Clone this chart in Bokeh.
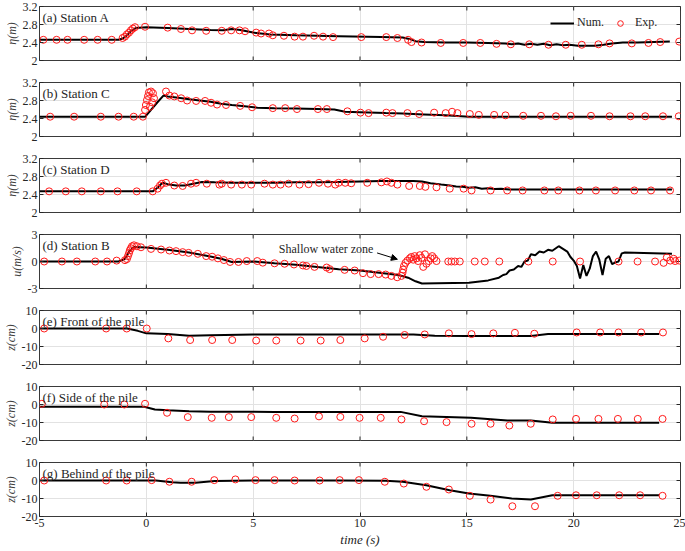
import math
from bokeh.plotting import figure
from bokeh.layouts import column
from bokeh.models import (Range1d, FixedTicker, NumeralTickFormatter, Label,
                          Arrow, NormalHead, Legend, LegendItem)
from bokeh.embed import file_html
from bokeh.resources import INLINE

FONT = "'Liberation Serif', 'Times New Roman', 'DejaVu Serif', serif"
TXT = "#262626"

# ---------------- data ----------------
x_ticks = [-5, 0, 5, 10, 15, 20, 25]
eta_ticks = [2, 2.4, 2.8, 3.2]
u_ticks = [-3, 0, 3]
z_ticks = [-20, -10, 0, 10]

# (a) Station A
num_a_t = [-5, -1.3, -1.1, -0.9, -0.7, -0.5, 0, 1, 2, 3, 3.6, 4.0, 4.4, 5, 5.8, 7, 9, 11, 12.0, 12.3,
           12.6, 13, 14, 15, 16, 16.8, 17.1, 17.4, 17.7, 18.0, 18.3, 18.6, 18.9, 19.2, 19.5, 19.8, 20.2,
           20.6, 21.0, 21.4, 21.8, 22.3, 23, 24.5]
num_a = [2.46, 2.46, 2.49, 2.56, 2.66, 2.72, 2.74, 2.72, 2.70, 2.68, 2.67, 2.70, 2.68, 2.62, 2.58, 2.56,
         2.54, 2.52, 2.51, 2.48, 2.43, 2.41, 2.40, 2.40, 2.39, 2.38, 2.36, 2.38, 2.35, 2.37, 2.35, 2.37,
         2.34, 2.36, 2.34, 2.35, 2.33, 2.33, 2.33, 2.35, 2.38, 2.40, 2.40, 2.42]
exp_a_t = [-4.82, -4.20, -3.69, -2.91, -2.28, -1.62, -1.11, -1.00, -0.91, -0.81, -0.72, -0.63, -0.53,
           -0.06, 1.0, 1.62, 2.14, 2.80, 3.53, 3.97, 4.36, 4.62, 5.14, 5.37, 5.74, 5.92, 6.44, 6.94, 7.33,
           7.85, 8.27, 8.74, 10.06, 11.23, 11.75, 12.25, 12.41, 12.88, 13.78, 14.83, 15.63, 16.39, 17.06,
           17.92, 18.82, 19.63, 20.38, 21.16, 21.68, 22.72, 23.50, 24.05, 24.94]
exp_a = [2.46, 2.46, 2.46, 2.46, 2.46, 2.46, 2.50, 2.53, 2.58, 2.62, 2.67, 2.71, 2.74, 2.75, 2.73, 2.70,
         2.67, 2.66, 2.66, 2.67, 2.67, 2.65, 2.62, 2.60, 2.60, 2.56, 2.55, 2.53, 2.53, 2.55, 2.53, 2.52,
         2.52, 2.52, 2.50, 2.46, 2.41, 2.40, 2.39, 2.39, 2.39, 2.37, 2.36, 2.36, 2.35, 2.35, 2.35, 2.36,
         2.38, 2.38, 2.39, 2.41, 2.42]

# (b) Station C
num_b_t = [-5, -0.05, 0.2, 0.5, 0.8, 1.0, 1.5, 2.0, 2.5, 3.0, 3.5, 4.0, 4.6, 5.2, 6.0, 7.0, 8.0, 8.8,
           9.3, 10.0, 11.2, 12.0, 13.0, 14.0, 15.1, 24.6]
num_b = [2.44, 2.44, 2.58, 2.75, 2.91, 2.89, 2.86, 2.83, 2.80, 2.77, 2.73, 2.70, 2.67, 2.64, 2.63, 2.62,
         2.61, 2.60, 2.55, 2.54, 2.52, 2.51, 2.49, 2.47, 2.44, 2.44]
exp_b_t = [-4.50, -3.38, -2.13, -1.30, -0.59, -0.16, -0.06, -0.02, 0.03, 0.08, 0.12, 0.17, 0.22, 0.27,
           0.31, 0.36, 0.92, 1.08, 1.31, 1.63, 1.91, 2.33, 2.75, 3.03, 3.31, 3.73, 4.39, 4.95, 5.92, 6.50,
           7.05, 8.03, 8.45, 9.41, 10.02, 10.40, 11.23, 11.52, 12.22, 12.77, 13.47, 14.01, 14.31, 14.56,
           15.14, 15.56, 16.28, 16.81, 17.64, 18.47, 19.17, 19.86, 20.81, 21.68, 22.66, 23.35, 24.18, 24.92]
exp_b = [2.44, 2.44, 2.44, 2.44, 2.44, 2.44, 2.59, 2.70, 2.81, 2.90, 2.98, 2.66, 3.0, 2.76, 2.96, 2.85,
         3.0, 2.91, 2.89, 2.85, 2.80, 2.79, 2.79, 2.75, 2.71, 2.70, 2.68, 2.65, 2.63, 2.63, 2.61, 2.61,
         2.61, 2.56, 2.53, 2.52, 2.53, 2.52, 2.52, 2.50, 2.53, 2.52, 2.55, 2.52, 2.50, 2.48, 2.48, 2.47,
         2.46, 2.46, 2.45, 2.46, 2.46, 2.45, 2.45, 2.45, 2.45, 2.45]

# (c) Station D
num_c_t = [-5, 0.3, 0.55, 0.75, 1.0, 1.4, 1.8, 2.2, 2.6, 3.2, 4, 5, 6, 7, 8, 9, 10, 11, 12.5, 12.9, 13.3,
           13.8, 14.2, 14.5, 14.8, 15.1, 15.4, 15.7, 16.0, 16.3, 16.6, 17.0, 18, 20, 24.6]
num_c = [2.47, 2.47, 2.56, 2.66, 2.63, 2.60, 2.60, 2.64, 2.68, 2.67, 2.66, 2.66, 2.66, 2.67, 2.67, 2.68,
         2.69, 2.70, 2.70, 2.69, 2.65, 2.62, 2.60, 2.58, 2.57, 2.55, 2.56, 2.53, 2.54, 2.52, 2.53, 2.51,
         2.51, 2.51, 2.51]
exp_c_t = [-4.55, -3.77, -3.02, -2.13, -1.35, -0.45, 0.30, 0.53, 0.64, 0.73, 0.92, 1.31, 1.70, 2.09,
           2.33, 2.83, 3.42, 3.53, 3.97, 4.47, 4.91, 5.53, 5.92, 6.28, 6.66, 7.17, 7.59, 8.08, 8.50, 8.84,
           9.00, 9.31, 9.59, 10.34, 11.0, 11.26, 11.47, 11.75, 12.30, 12.80, 13.06, 13.58, 14.20, 14.85,
           15.22, 16.11, 16.89, 17.61, 18.63, 19.28, 20.27, 21.04, 21.94, 22.84, 23.62, 24.51]
exp_c = [2.47, 2.47, 2.47, 2.47, 2.47, 2.47, 2.47, 2.53, 2.60, 2.64, 2.66, 2.60, 2.59, 2.64, 2.66, 2.64,
         2.62, 2.64, 2.62, 2.62, 2.62, 2.64, 2.62, 2.62, 2.64, 2.62, 2.63, 2.66, 2.64, 2.62, 2.66, 2.66,
         2.65, 2.66, 2.67, 2.69, 2.66, 2.62, 2.59, 2.59, 2.57, 2.56, 2.53, 2.53, 2.49, 2.49, 2.49, 2.49,
         2.49, 2.49, 2.49, 2.49, 2.49, 2.49, 2.49, 2.49]

# (d) Station B (velocity)
num_d_t = [-5, -1.3, -1.0, -0.8, -0.6, 0, 1, 2, 3.0, 3.5, 4.0, 5.0, 6.0, 7.0, 8.0, 9.0, 10.0, 10.7, 11.8,
           12.25, 12.6, 12.9, 15.1, 16.0, 16.5, 16.7, 16.85, 17.0, 17.2, 17.4, 17.55, 17.7, 17.85, 18.0,
           18.2, 18.4, 18.6, 18.8, 19.0, 19.3, 19.5, 19.7, 19.85, 20.0, 20.15, 20.3, 20.45, 20.6, 20.75,
           20.9, 21.05, 21.2, 21.35, 21.5, 21.65, 21.8, 21.95, 22.1, 22.25, 22.4, 24.6]
num_d = [0, 0, 0.3, 1.1, 1.6, 1.55, 1.3, 1.0, 0.55, 0.3, -0.05, 0.0, -0.2, -0.35, -0.6, -0.85, -1.0, -1.2,
         -1.5, -1.8, -2.2, -2.45, -2.35, -2.1, -1.8, -1.5, -1.4, -1.0, -0.9, -0.5, -0.6, 0.0, 0.1, 0.8,
         0.7, 1.1, 1.0, 1.3, 1.2, 1.7, 1.4, 1.1, 0.5, 0.1, -0.5, -1.9, -0.4, -1.6, -0.8, 0.6, 1.1, 0.2,
         -1.5, 0.3, 0.6, -0.3, -0.1, 0.0, 0.9, 1.0, 0.85]
exp_d_t = [-4.78, -3.95, -3.25, -2.39, -1.84, -1.39, -1.0, -0.91, -0.86, -0.81,
           -0.77, -0.72, -0.67, -0.58, -0.44, -0.25, 0.22, 0.69, 1.08, 1.39,
           1.70, 1.98, 2.41, 2.80, 3.08, 3.35, 3.63, 3.92, 4.31, 4.70,
           5.19, 5.45, 6.0, 6.47, 6.91, 7.33, 7.49, 7.87, 8.44, 8.58,
           9.28, 9.75, 10.14, 10.50, 10.87, 11.20, 11.47, 11.74, 11.94, 11.99,
           12.02, 12.06, 12.13, 12.22, 12.33, 12.40, 12.49, 12.56, 12.64, 12.72,
           12.80, 12.88, 12.96, 13.04, 13.11, 13.22, 13.31, 13.38, 13.47, 13.58,
           14.13, 14.28, 14.44, 14.67, 15.37, 15.84, 16.52, 17.88, 19.02, 20.30,
           22.10, 22.99, 23.81, 24.21, 24.36, 24.52, 24.68, 24.75, 24.94]
exp_d = [0, 0, 0, 0, 0, 0.1, 0.15, 0.27, 0.6, 0.93,
         1.25, 1.47, 1.69, 1.8, 1.69, 1.58, 1.40, 1.33, 1.22, 1.15,
         1.04, 0.96, 0.85, 0.60, 0.53, 0.35, 0.16, -0.05, -0.05, 0.05,
         0.05, -0.13, -0.2, -0.25, -0.33, -0.44, -0.5, -0.6, -0.67, -0.85,
         -0.93, -1.0, -1.3, -1.4, -1.4, -1.45, -1.6, -1.75, -1.6, -1.25,
         -0.9, -0.5, -0.15, 0.1, 0.35, 0.5, 0.2, 0.6, 0.35, 0.05,
         0.7, 0.4, -0.6, 0.8, -0.25, 0.05, 0.35, 0.6, 0.35, 0.05,
         0.0, 0.0, 0.0, 0.0, 0.0, 0.0, 0.0, 0.0, 0.0, 0.0,
         0.0, 0.0, 0.0, -0.15, 0.45, 0.1, 0.3, 0.05, 0.1]

# (e) Front of the pile
num_e_t = [-5, -0.9, -0.4, 0, 1.0, 2.0, 3.0, 5.0, 9.0, 12.5, 13.5, 15, 18.0, 18.8, 24.0]
num_e = [0, 0, -1.3, -2.7, -3.0, -4.0, -3.8, -3.4, -3.4, -3.4, -4.0, -4.2, -4.2, -3.1, -3.1]
exp_e_t = [-4.78, -1.88, -0.92, 0.02, 1.03, 2.05, 3.08, 4.02, 5.14, 6.08, 7.22, 8.16, 9.08, 10.22,
           11.08, 12.09, 13.03, 14.16, 15.22, 16.24, 17.25, 18.16, 20.14, 21.24, 22.10, 23.16, 24.18]
exp_e = [0, 0, 0, 0, -5.5, -6.4, -6.4, -6.4, -6.7, -6.7, -6.7, -6.7, -6.4, -5.5, -4.6, -3.6, -3.3, -2.7,
         -3.1, -2.7, -2.4, -2.9, -2.2, -2.2, -2.2, -2.2, -2.2]

# (f) Side of the pile
num_f_t = [-5, -0.1, 0.4, 1.0, 2.0, 3.0, 6.0, 9.0, 11.9, 12.9, 15.2, 16.9, 18.0, 19.0, 24.0]
num_f = [-1.2, -1.2, -2.8, -3.2, -3.7, -4.0, -4.1, -4.1, -4.1, -6.5, -7.4, -8.9, -8.9, -10.2, -10.2]
exp_f_t = [-4.89, -1.97, -1.03, -0.06, 0.97, 1.94, 3.06, 3.86, 4.91, 6.08, 6.94, 8.08, 9.08, 9.98,
           10.97, 11.94, 13.0, 14.05, 15.22, 16.11, 16.99, 17.99, 19.02, 20.11, 21.16, 22.07, 23.0, 24.16]
exp_f = [0.4, 0, 0, 0.4, -4.6, -7.0, -7.4, -7.0, -7.0, -7.4, -7.8, -6.6, -6.9, -7.4, -7.4, -8.3, -9.3,
         -9.8, -10.7, -10.7, -11.7, -10.7, -8.3, -8.0, -8.0, -8.0, -8.0, -8.0]

# (g) Behind of the pile
num_g_t = [-5, 0.45, 1.2, 1.6, 2.3, 3.2, 5, 9, 11.2, 12.0, 13.1, 14.2, 15.1, 16.1, 17.1, 18.0, 19.0, 24.0]
num_g = [0, 0, -1.0, -1.3, -1.3, -0.3, 0, 0, -0.2, -0.7, -2.6, -5.4, -7.2, -8.5, -10.0, -10.6, -8.2, -8.2]
exp_g_t = [-4.78, -1.88, -0.92, 0.25, 1.08, 2.12, 3.18, 4.17, 5.11, 6.0, 6.94, 8.11, 9.05, 9.95, 11.16,
           12.05, 13.11, 14.16, 15.14, 16.11, 17.13, 18.19, 19.25, 20.11, 21.08, 22.13, 23.11, 24.16]
exp_g = [0, 0, 0, 0.2, -0.7, -0.7, 0.2, 0.6, 0.2, 0.2, 0, 0, 0.2, 0.2, -0.7, -1.7, -3.5, -5.0, -8.5,
         -10.6, -14.3, -14.3, -8.5, -8.2, -8.2, -8.2, -8.2, -8.5]

panels = [
    ("(a) Station A", "η(m)", (2, 3.2), eta_ticks, num_a_t, num_a, exp_a_t, exp_a),
    ("(b) Station C", "η(m)", (2, 3.2), eta_ticks, num_b_t, num_b, exp_b_t, exp_b),
    ("(c) Station D", "η(m)", (2, 3.2), eta_ticks, num_c_t, num_c, exp_c_t, exp_c),
    ("(d) Station B", "u(m/s)", (-3, 3), u_ticks, num_d_t, num_d, exp_d_t, exp_d),
    ("(e) Front of the pile", "z(cm)", (-20, 10), z_ticks, num_e_t, num_e, exp_e_t, exp_e),
    ("(f) Side of the pile", "z(cm)", (-20, 10), z_ticks, num_f_t, num_f, exp_f_t, exp_f),
    ("(g) Behind of the pile", "z(cm)", (-20, 10), z_ticks, num_g_t, num_g, exp_g_t, exp_g),
]

note_text = "Shallow water zone"
note_pos = (6.2, 1.35)
arrow_from = (10.8, 0.95)
arrow_to = (11.75, 0.25)

# ---------------- layout ----------------
W = 685
FRAME_H = 54
TOP = 6
BOT = 16
BOT_LAST = 34
LEFT = 39
RIGHT = 5
X0, X1 = -5, 25


def style_axis(ax, ticks):
    ax.ticker = FixedTicker(ticks=ticks)
    ax.formatter = NumeralTickFormatter(format="0.[0]")
    ax.major_tick_in = 4
    ax.major_tick_out = 0
    ax.minor_tick_in = 0
    ax.minor_tick_out = 0
    ax.axis_line_color = None
    ax.major_tick_line_color = TXT
    ax.major_tick_line_width = 1
    ax.major_label_text_font = FONT
    ax.major_label_text_color = TXT
    ax.major_label_text_font_size = "12px"
    ax.major_label_standoff = 2


figs = []
for i, (title, ylab, yr, yt, nt, nv, et, ev) in enumerate(panels):
    last = i == len(panels) - 1
    h = TOP + FRAME_H + (BOT_LAST if last else BOT)
    p = figure(width=W, height=h, x_range=Range1d(X0, X1), y_range=Range1d(*yr),
               output_backend="svg", toolbar_location=None,
               min_border_left=LEFT, min_border_right=RIGHT, min_border_top=TOP,
               min_border_bottom=(BOT_LAST if last else BOT))
    p.outline_line_color = "#3a3a3a"
    p.outline_line_width = 1
    p.background_fill_color = "white"
    p.border_fill_color = "white"

    style_axis(p.yaxis[0], yt)
    p.yaxis[0].axis_label = ylab
    p.yaxis[0].axis_label_text_font = FONT
    p.yaxis[0].axis_label_text_font_size = "12px"
    p.yaxis[0].axis_label_text_font_style = "italic"
    p.yaxis[0].axis_label_text_color = "#404040"
    p.yaxis[0].axis_label_standoff = 1
    if last:
        style_axis(p.xaxis[0], x_ticks)
        p.xaxis[0].axis_label = "time (s)"
        p.xaxis[0].axis_label_text_font = FONT
        p.xaxis[0].axis_label_text_font_size = "13px"
        p.xaxis[0].axis_label_text_font_style = "italic"
        p.xaxis[0].axis_label_text_color = TXT
        p.xaxis[0].axis_label_standoff = 2
    else:
        p.xaxis[0].visible = False

    p.xgrid.ticker = FixedTicker(ticks=x_ticks)
    p.ygrid.ticker = FixedTicker(ticks=yt)
    p.xgrid.grid_line_color = "#e2e2e2"
    p.ygrid.grid_line_color = "#e2e2e2"

    # inward box ticks on the top / right (and bottom where no axis is shown)
    p.scatter(x_ticks, [yr[1]] * len(x_ticks), marker="dash", angle=math.pi / 2, size=8,
              line_color=TXT, line_width=1)
    if not last:
        p.scatter(x_ticks, [yr[0]] * len(x_ticks), marker="dash", angle=math.pi / 2, size=8,
                  line_color=TXT, line_width=1)
    p.scatter([X1] * len(yt), yt, marker="dash", size=8, line_color=TXT, line_width=1)

    r_num = p.line(nt, nv, line_color="black", line_width=2)
    r_exp = p.scatter(et, ev, marker="circle", size=7, fill_color=None,
                      line_color="#ff1a1a", line_width=1)

    p.add_layout(Label(x=X0, y=yr[1], x_offset=3, y_offset=-3, text=title,
                       text_baseline="top", text_font=FONT, text_font_size="13px",
                       text_color=TXT))

    if i == 0:
        leg = Legend(items=[LegendItem(label="Num.", renderers=[r_num]),
                            LegendItem(label="Exp.", renderers=[r_exp])],
                     orientation="horizontal", location=(511, 30),
                     background_fill_alpha=0, border_line_color=None,
                     label_text_font=FONT, label_text_font_size="12px",
                     label_text_color=TXT, glyph_width=24, glyph_height=14,
                     label_height=14, label_width=10,
                     spacing=4, label_standoff=3, margin=0, padding=0)
        p.add_layout(leg)
    if i == 3:
        p.add_layout(Label(x=note_pos[0], y=note_pos[1], text=note_text,
                           text_baseline="middle", text_font=FONT, text_font_size="12px",
                           text_color=TXT))
        p.add_layout(Arrow(end=NormalHead(size=6, fill_color="black", line_color="black"),
                           x_start=arrow_from[0], y_start=arrow_from[1],
                           x_end=arrow_to[0], y_end=arrow_to[1],
                           line_color="black", line_width=1))
    figs.append(p)

layout = column(*figs, spacing=0)
open("out.html", "w").write(file_html(layout, INLINE))
